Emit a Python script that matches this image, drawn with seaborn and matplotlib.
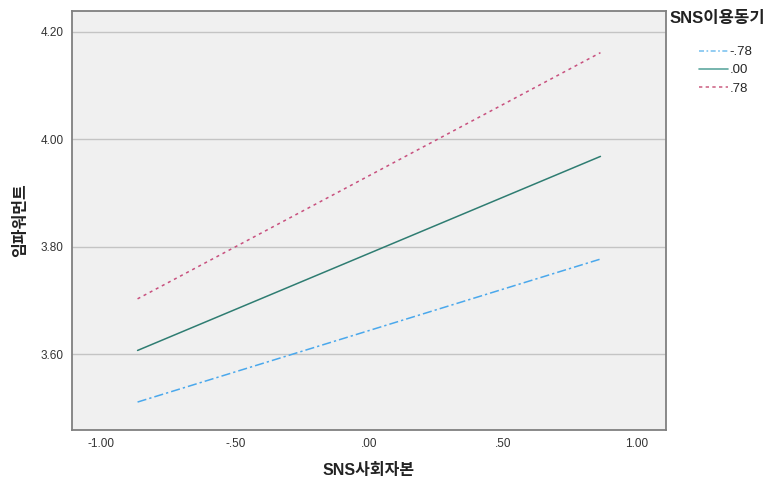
import matplotlib
matplotlib.use("Agg")
import matplotlib.pyplot as plt
import seaborn as sns
import pandas as pd
from matplotlib.lines import Line2D

# Data
x_points = [-0.865, 0.865]
group_labels = ["-.78", ".00", ".78"]
y_low = [3.511, 3.777]    # -.78
y_mid = [3.607, 3.968]    # .00
y_high = [3.703, 4.161]   # .78
x_ticks = [-1.0, -0.5, 0.0, 0.5, 1.0]
x_tick_labels = ["-1.00", "-.50", ".00", ".50", "1.00"]
y_ticks = [3.6, 3.8, 4.0, 4.2]
y_tick_labels = ["3.60", "3.80", "4.00", "4.20"]

df = pd.DataFrame({
    "x": x_points * 3,
    "y": y_low + y_mid + y_high,
    "g": [g for g in group_labels for _ in x_points],
})

sns.set_theme(style="white")
plt.rcParams["font.family"] = ["Liberation Sans", "Noto Sans CJK KR", "DejaVu Sans"]

fig = plt.figure(figsize=(7.81, 4.79), dpi=100)
ax = fig.add_axes([72/781, 49/479, (666-72)/781, (430-11)/479])
ax.set_facecolor("#f0f0f0")

palette = {"-.78": "#4aa8ec", ".00": "#2f7d72", ".78": "#c8507e"}
dashes = {"-.78": (6, 2, 1.5, 2), ".00": "", ".78": (2, 2.5)}

sns.lineplot(data=df, x="x", y="y", hue="g", style="g", palette=palette,
             dashes=dashes, ax=ax, legend=False, linewidth=1.1,
             hue_order=group_labels, style_order=group_labels)

ax.set_xlim(-1.11, 1.11)
ax.set_ylim(3.459, 4.2385)
ax.set_xticks(x_ticks)
ax.set_xticklabels(x_tick_labels)
ax.set_yticks(y_ticks)
ax.set_yticklabels(y_tick_labels)
ax.tick_params(axis="both", length=0, labelsize=8.5, colors="#333333", pad=6)
ax.grid(axis="y", color="#c4c4c4", linewidth=1.0)
ax.set_axisbelow(True)
for s in ax.spines.values():
    s.set_color("#808080")
    s.set_linewidth(1.3)

ax.set_xlabel("SNS사회자본", fontsize=11.5, fontweight="bold", color="#222222", labelpad=9)
ax.set_ylabel("임파워먼트", fontsize=11.5, fontweight="bold", color="#222222", labelpad=9)

# Legend
fig.text(670/781, 1 - 19/479, "SNS이용동기", fontsize=12, fontweight="bold",
         color="#222222", ha="left", va="center")
handles = [
    Line2D([], [], color="#7fc4f0", linestyle=(0, (3, 1.5, 1, 1.5)), linewidth=1.2),
    Line2D([], [], color="#5fa8a0", linestyle="-", linewidth=1.2),
    Line2D([], [], color="#d06a8a", linestyle=(0, (2, 2)), linewidth=1.2),
]
fig.legend(handles, group_labels, loc="upper left",
           bbox_to_anchor=(699/781, 1 - 46/479), frameon=False,
           fontsize=9.5, handlelength=2.2, handletextpad=0.1,
           labelspacing=0.45, borderaxespad=0, borderpad=0)

fig.savefig("out.png", dpi=100)
